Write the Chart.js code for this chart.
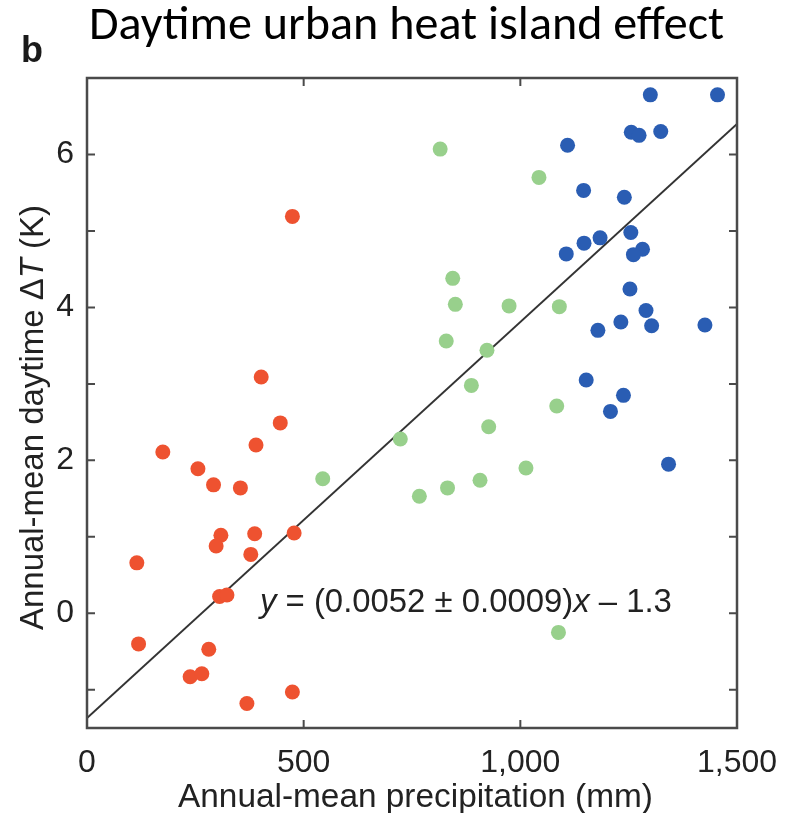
<!DOCTYPE html>
<html><head><meta charset="utf-8">
<script src="https://cdn.jsdelivr.net/npm/chart.js@4/dist/chart.umd.min.js"></script>
<style>html,body{margin:0;padding:0;background:#fff}#wrap{width:795px;height:813px}</style>
</head><body><div id="wrap"><canvas id="c" width="795" height="813"></canvas></div>
<script>
// Dry cities (red)
const dryX = [175,256,292,354,390,446,478,115,309,298,387,378,306,323,119,281,238,265,369,474,474,402];
const dryY = [2.11,1.89,1.68,1.64,2.20,2.49,1.05,0.66,1.02,0.88,1.04,0.77,0.22,0.24,-0.40,-0.47,-0.83,-0.79,-1.18,-1.03,5.19,3.09];
// Intermediate (green)
const midX = [815,1043,844,850,974,1090,829,923,887,1084,927,723,1013,907,832,767,1088,544];
const midY = [6.07,5.70,4.38,4.04,4.02,4.01,3.56,3.44,2.98,2.71,2.44,2.28,1.90,1.74,1.64,1.53,-0.25,1.76];
// Wet cities (blue)
const wetX = [1300,1455,1256,1274,1324,1109,1146,1240,1255,1184,1147,1106,1282,1261,1253,1290,1232,1303,1179,1426,1152,1238,1208,1342];
const wetY = [6.78,6.78,6.29,6.25,6.30,6.12,5.53,5.44,4.98,4.91,4.84,4.70,4.76,4.69,4.24,3.96,3.81,3.76,3.70,3.77,3.05,2.85,2.64,1.95];
// Regression line endpoints
const fitX = [0, 1500];
const fitY = [-1.37, 6.40];
// Axis ticks
const xTicks = [0, 500, 1000, 1500];
const yTicks = [-1, 0, 1, 2, 3, 4, 5, 6];
const yLabelTicks = [0, 2, 4, 6];

const title = 'Daytime urban heat island effect';
const panel = 'b';
const xTitle = 'Annual-mean precipitation (mm)';
const eqParts = [['y', true], [' = (0.0052 \u00b1 0.0009)', false], ['x', true], [' \u2013 1.3', false]];
const yTitleParts = [['Annual-mean daytime \u0394', false], ['T', true], [' (K)', false]];

const pts = (xs, ys) => xs.map((x, i) => ({x, y: ys[i]}));
const SANS = '"Liberation Sans", Arial, Helvetica, sans-serif';

function fitSize(ctx, parts, target, base) {
  let total = 0;
  parts.forEach(([t, it]) => {
    ctx.font = (it ? 'italic ' : '') + base + 'px ' + SANS;
    total += ctx.measureText(t).width;
  });
  return base * target / total;
}
function drawParts(ctx, parts, x, y, size) {
  parts.forEach(([t, it]) => {
    ctx.font = (it ? 'italic ' : '') + size.toFixed(2) + 'px ' + SANS;
    ctx.fillText(t, x, y);
    x += ctx.measureText(t).width;
  });
}

const decor = {
  id: 'decor',
  afterDraw(chart) {
    const ctx = chart.ctx, a = chart.chartArea;
    const xs = chart.scales.x, ys = chart.scales.y;
    ctx.save();
    // frame
    ctx.strokeStyle = '#4a4a4a';
    ctx.lineWidth = 2.5;
    ctx.strokeRect(a.left, a.top, a.right - a.left, a.bottom - a.top);
    // inward ticks
    const tl = 8;
    ctx.lineWidth = 2;
    ctx.beginPath();
    xTicks.forEach(v => {
      if (v <= xs.min || v >= xs.max) return;
      const p = xs.getPixelForValue(v);
      ctx.moveTo(p, a.bottom); ctx.lineTo(p, a.bottom - tl);
      ctx.moveTo(p, a.top); ctx.lineTo(p, a.top + tl);
    });
    yTicks.forEach(v => {
      const p = ys.getPixelForValue(v);
      ctx.moveTo(a.left, p); ctx.lineTo(a.left + tl, p);
      ctx.moveTo(a.right, p); ctx.lineTo(a.right - tl, p);
    });
    ctx.stroke();

    // title (Calibri-like)
    ctx.fillStyle = '#000';
    ctx.textBaseline = 'alphabetic';
    ctx.textAlign = 'left';
    let fs = 40;
    ctx.font = fs + 'px Carlito, Lato, "Open Sans", sans-serif';
    const w = ctx.measureText(title).width;
    fs = fs * 635 / w;
    ctx.font = fs.toFixed(1) + 'px Carlito, Lato, "Open Sans", sans-serif';
    ctx.fillText(title, 89, 39);

    // panel letter
    ctx.fillStyle = '#1a1a1a';
    ctx.font = 'bold 36px ' + SANS;
    ctx.fillText(panel, 21, 62);

    ctx.fillStyle = '#222';
    // x title
    const xParts = [[xTitle, false]];
    const xs2 = fitSize(ctx, xParts, 475, 32);
    drawParts(ctx, xParts, 178, 807, xs2);

    // equation
    const es = fitSize(ctx, eqParts, 412, 32);
    drawParts(ctx, eqParts, 260, 612, es);

    // y title (rotated)
    const ysz = fitSize(ctx, yTitleParts, 425, 32);
    ctx.translate(43, 630);
    ctx.rotate(-Math.PI / 2);
    drawParts(ctx, yTitleParts, 0, 0, ysz);
    ctx.restore();
  }
};

new Chart(document.getElementById('c'), {
  type: 'scatter',
  data: {
    datasets: [
      {data: pts(dryX, dryY), backgroundColor: '#ee5230', borderWidth: 0, pointRadius: 7.5, order: 1},
      {data: pts(midX, midY), backgroundColor: '#98d08c', borderWidth: 0, pointRadius: 7.5, order: 1},
      {data: pts(wetX, wetY), backgroundColor: '#2a5db3', borderWidth: 0, pointRadius: 7.5, order: 1},
      {type: 'line', data: pts(fitX, fitY), borderColor: '#333', borderWidth: 2, pointRadius: 0, fill: false, order: 10}
    ]
  },
  options: {
    responsive: false,
    animation: false,
    devicePixelRatio: 1,
    layout: {padding: {top: 78, right: 58, left: 0, bottom: 0}},
    plugins: {legend: {display: false}, tooltip: {enabled: false}},
    scales: {
      x: {
        type: 'linear', min: 0, max: 1500,
        grid: {display: false}, border: {display: false},
        afterBuildTicks: s => { s.ticks = xTicks.map(v => ({value: v})); },
        ticks: {
          padding: 8, color: '#222', maxRotation: 0,
          font: {family: SANS, size: 32},
          callback: v => v.toLocaleString('en-US')
        },
        afterFit: s => { s.height = 85; }
      },
      y: {
        type: 'linear', min: -1.5, max: 7,
        grid: {display: false}, border: {display: false},
        afterBuildTicks: s => { s.ticks = yLabelTicks.map(v => ({value: v})); },
        ticks: {
          padding: 5, color: '#222',
          font: {family: SANS, size: 32},
          callback: v => String(v)
        },
        afterFit: s => { s.width = 87; }
      }
    }
  },
  plugins: [decor]
});
</script>
</body></html>
